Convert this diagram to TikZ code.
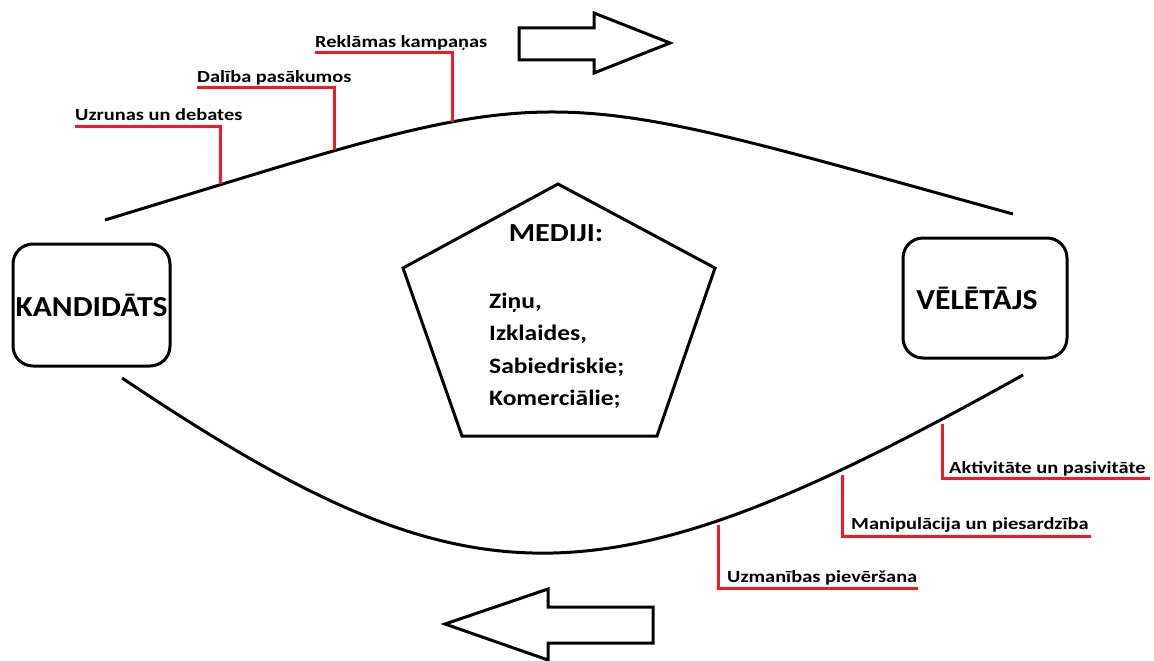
\documentclass[tikz,border=0pt]{standalone}
\usepackage{fontspec}
\setmainfont{Carlito}
\newfontfamily\boxfont[FakeStretch=1.09]{Carlito}
\newfontfamily\medfont[FakeStretch=1.16]{Carlito}
\newfontfamily\lblfont[FakeStretch=1.2]{Carlito}
\definecolor{ledred}{RGB}{237,28,36}
\begin{document}
\begin{tikzpicture}[x=1pt,y=-1pt,
  blk/.style={draw=black, line width=3pt},
  box/.style={draw=black, line width=3pt, rounded corners=20pt, inner sep=0pt, align=center, font=\boxfont\fontsize{29}{31}\selectfont\bfseries},
  lbl/.style={anchor=base west, inner sep=0pt, font=\lblfont\fontsize{17}{19}\selectfont\bfseries},
  lead/.style={draw=ledred, line width=3pt},
  medtitle/.style={anchor=base, inner sep=0pt, font=\medfont\fontsize{26}{28}\selectfont\bfseries},
  meditem/.style={anchor=base west, inner sep=0pt, font=\medfont\fontsize{22}{24}\selectfont\bfseries}]
\useasboundingbox (0,0) rectangle (1154,661);
\fill[white] (0,0) rectangle (1154,661);

% boxes
\node[box, minimum width=157pt, minimum height=122pt] (kand) at (91.5,305) {KANDIDĀTS};
\node[box, minimum width=164pt, minimum height=120pt] (vel) at (985,298) {VĒLĒTĀJS\hspace*{16pt}};

% pentagon
\coordinate (pt) at (558,184);
\coordinate (pl) at (403,268);
\coordinate (pr) at (715,268);
\coordinate (pbl) at (462,436);
\coordinate (pbr) at (657,436);
\draw[blk, line join=miter] (pt) -- (pr) -- (pbr) -- (pbl) -- (pl) -- cycle;
\node[medtitle] (med) at (556,241) {MEDIJI:};
\node[meditem] (m1) at (489,308) {Ziņu,};
\node[meditem] (m2) at (489,340) {Izklaides,};
\node[meditem] (m3) at (489,373) {Sabiedriskie;};
\node[meditem] (m4) at (489,405) {Komerciālie;};

% curves
\coordinate (tl) at (105,220);
\coordinate (tr) at (1013,214);
\draw[blk] (tl) .. controls (575,77) and (516,77) .. (tr);
\coordinate (bl) at (122,378);
\coordinate (br) at (1023,375);
\draw[blk] (bl) .. controls (471,612) and (598,612) .. (br);

% top labels
\node[lbl] (u1) at (75,121) {Uzrunas un debates};
\node[lbl] (u2) at (197,82) {Dalība pasākumos};
\node[lbl] (u3) at (315,48) {Reklāmas kampaņas};
\coordinate (c1) at (220,184);
\coordinate (c2) at (334,150);
\coordinate (c3) at (452,122);
\coordinate (h1) at (75,126);
\coordinate (h2) at (197,87);
\coordinate (h3) at (315,53);
\draw[lead] (c1) |- (h1);
\draw[lead] (c2) |- (h2);
\draw[lead] (c3) |- (h3);

% bottom labels
\node[lbl] (d1) at (949,473) {Aktivitāte un pasivitāte};
\node[lbl] (d2) at (851,529) {Manipulācija un piesardzība};
\node[lbl] (d3) at (727,582) {Uzmanības pievēršana};
\coordinate (e1) at (942,424);
\coordinate (e2) at (842,475);
\coordinate (e3) at (718,525);
\coordinate (k1) at (1150,478);
\coordinate (k2) at (1091,536);
\coordinate (k3) at (918,588);
\draw[lead] (e1) |- (k1);
\draw[lead] (e2) |- (k2);
\draw[lead] (e3) |- (k3);

% arrows
\draw[blk, line join=miter] (519,28) -- (594,28) -- (594,13) -- (670,43) -- (594,73) -- (594,60) -- (519,60) -- cycle;
\draw[blk, line join=miter] (653,607) -- (548,607) -- (548,589) -- (445,624) -- (548,660) -- (548,643) -- (653,643) -- cycle;
\end{tikzpicture}
\end{document}
